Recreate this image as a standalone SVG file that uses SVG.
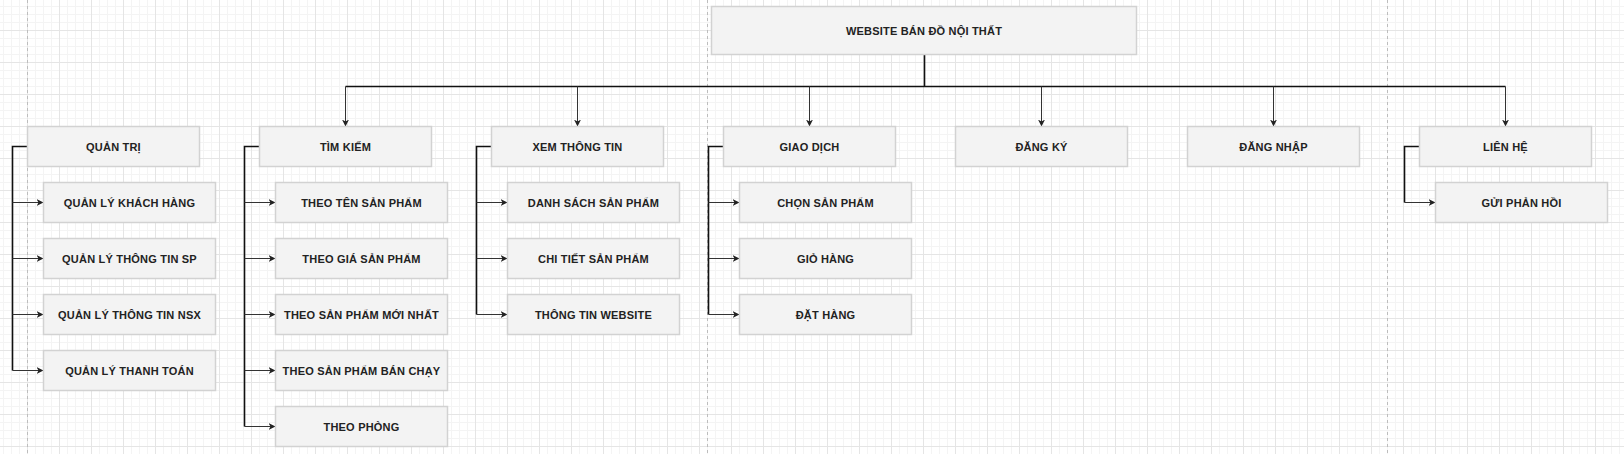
<svg xmlns="http://www.w3.org/2000/svg" width="1624" height="454" viewBox="0 0 1624 454">
<style>
.box{fill:#f3f3f3;stroke:#d2d2d2;stroke-width:1.5}
.t{font-family:"Liberation Sans",Arial,sans-serif;font-size:11px;font-weight:bold;fill:#222;text-anchor:middle;letter-spacing:0.2px}
.trunk{fill:none;stroke:#111;stroke-width:1.6}
.br{fill:none;stroke:#333;stroke-width:1;marker-end:url(#arr)}
.page{stroke:#bdbdbd;stroke-width:1;stroke-dasharray:3 3}
</style>
<defs>
<marker id="arr" markerUnits="userSpaceOnUse" markerWidth="9" markerHeight="9" refX="7" refY="4" orient="auto">
<path d="M0,0.5 L7,4 L0,7.5 L2,4 z" fill="#222"/>
</marker>
<pattern id="grid" patternUnits="userSpaceOnUse" x="27" y="30" width="32" height="32">
<path d="M8.5,0V32M16.5,0V32M24.5,0V32M0,8.5H32M0,16.5H32M0,24.5H32" stroke="#f4f4f4" stroke-width="1" fill="none"/>
<path d="M0.5,0V32M0,0.5H32" stroke="#e5e5e5" stroke-width="1" fill="none"/>
</pattern>
</defs>
<rect width="1624" height="454" fill="#fff"/>
<rect width="1624" height="454" fill="url(#grid)"/>
<g id="pages">
<line class="page" x1="27.5" y1="0" x2="27.5" y2="454"/>
<line class="page" x1="707.5" y1="0" x2="707.5" y2="454"/>
<line class="page" x1="1387.5" y1="0" x2="1387.5" y2="454"/>
</g>
<g id="connectors">
<path class="trunk" d="M924.5,54.5V86.5M345.5,86.5H1505.5"/>
<path class="br" d="M345.5,86.5V126.5"/>
<path class="br" d="M577.5,86.5V126.5"/>
<path class="br" d="M809.5,86.5V126.5"/>
<path class="br" d="M1041.5,86.5V126.5"/>
<path class="br" d="M1273.5,86.5V126.5"/>
<path class="br" d="M1505.5,86.5V126.5"/>
<path class="trunk" d="M27.5,146.5H12.5V370.5"/>
<path class="br" d="M12.5,202.5H43.5"/>
<path class="br" d="M12.5,258.5H43.5"/>
<path class="br" d="M12.5,314.5H43.5"/>
<path class="br" d="M12.5,370.5H43.5"/>
<path class="trunk" d="M259.5,146.5H244.5V426.5"/>
<path class="br" d="M244.5,202.5H275.5"/>
<path class="br" d="M244.5,258.5H275.5"/>
<path class="br" d="M244.5,314.5H275.5"/>
<path class="br" d="M244.5,370.5H275.5"/>
<path class="br" d="M244.5,426.5H275.5"/>
<path class="trunk" d="M491.5,146.5H476.5V314.5"/>
<path class="br" d="M476.5,202.5H507.5"/>
<path class="br" d="M476.5,258.5H507.5"/>
<path class="br" d="M476.5,314.5H507.5"/>
<path class="trunk" d="M723.5,146.5H708.5V314.5"/>
<path class="br" d="M708.5,202.5H739.5"/>
<path class="br" d="M708.5,258.5H739.5"/>
<path class="br" d="M708.5,314.5H739.5"/>
<path class="trunk" d="M1419.5,146.5H1404.5V202.5"/>
<path class="br" d="M1404.5,202.5H1435.5"/>
</g>
<g id="root"><rect class="box" x="711.5" y="6.5" width="425" height="48"/><text class="t" x="924" y="34.5">WEBSITE BÁN ĐỒ NỘI THẤT</text></g>
<g id="quantri"><rect class="box" x="27.5" y="126.5" width="172" height="40"/><text class="t" x="113.5" y="150.5">QUẢN TRỊ</text></g>
<g id="qlkh"><rect class="box" x="43.5" y="182.5" width="172" height="40"/><text class="t" x="129.5" y="206.5">QUẢN LÝ KHÁCH HÀNG</text></g>
<g id="qlsp"><rect class="box" x="43.5" y="238.5" width="172" height="40"/><text class="t" x="129.5" y="262.5">QUẢN LÝ THÔNG TIN SP</text></g>
<g id="qlnsx"><rect class="box" x="43.5" y="294.5" width="172" height="40"/><text class="t" x="129.5" y="318.5">QUẢN LÝ THÔNG TIN NSX</text></g>
<g id="qltt"><rect class="box" x="43.5" y="350.5" width="172" height="40"/><text class="t" x="129.5" y="374.5">QUẢN LÝ THANH TOÁN</text></g>
<g id="timkiem"><rect class="box" x="259.5" y="126.5" width="172" height="40"/><text class="t" x="345.5" y="150.5">TÌM KIẾM</text></g>
<g id="tk1"><rect class="box" x="275.5" y="182.5" width="172" height="40"/><text class="t" x="361.5" y="206.5">THEO TÊN SẢN PHẨM</text></g>
<g id="tk2"><rect class="box" x="275.5" y="238.5" width="172" height="40"/><text class="t" x="361.5" y="262.5">THEO GIÁ SẢN PHẨM</text></g>
<g id="tk3"><rect class="box" x="275.5" y="294.5" width="172" height="40"/><text class="t" x="361.5" y="318.5">THEO SẢN PHẨM MỚI NHẤT</text></g>
<g id="tk4"><rect class="box" x="275.5" y="350.5" width="172" height="40"/><text class="t" x="361.5" y="374.5">THEO SẢN PHẨM BÁN CHẠY</text></g>
<g id="tk5"><rect class="box" x="275.5" y="406.5" width="172" height="40"/><text class="t" x="361.5" y="430.5">THEO PHÒNG</text></g>
<g id="xemtt"><rect class="box" x="491.5" y="126.5" width="172" height="40"/><text class="t" x="577.5" y="150.5">XEM THÔNG TIN</text></g>
<g id="x1"><rect class="box" x="507.5" y="182.5" width="172" height="40"/><text class="t" x="593.5" y="206.5">DANH SÁCH SẢN PHẨM</text></g>
<g id="x2"><rect class="box" x="507.5" y="238.5" width="172" height="40"/><text class="t" x="593.5" y="262.5">CHI TIẾT SẢN PHẨM</text></g>
<g id="x3"><rect class="box" x="507.5" y="294.5" width="172" height="40"/><text class="t" x="593.5" y="318.5">THÔNG TIN WEBSITE</text></g>
<g id="giaodich"><rect class="box" x="723.5" y="126.5" width="172" height="40"/><text class="t" x="809.5" y="150.5">GIAO DỊCH</text></g>
<g id="g1"><rect class="box" x="739.5" y="182.5" width="172" height="40"/><text class="t" x="825.5" y="206.5">CHỌN SẢN PHẨM</text></g>
<g id="g2"><rect class="box" x="739.5" y="238.5" width="172" height="40"/><text class="t" x="825.5" y="262.5">GIỎ HÀNG</text></g>
<g id="g3"><rect class="box" x="739.5" y="294.5" width="172" height="40"/><text class="t" x="825.5" y="318.5">ĐẶT HÀNG</text></g>
<g id="dangky"><rect class="box" x="955.5" y="126.5" width="172" height="40"/><text class="t" x="1041.5" y="150.5">ĐĂNG KÝ</text></g>
<g id="dangnhap"><rect class="box" x="1187.5" y="126.5" width="172" height="40"/><text class="t" x="1273.5" y="150.5">ĐĂNG NHẬP</text></g>
<g id="lienhe"><rect class="box" x="1419.5" y="126.5" width="172" height="40"/><text class="t" x="1505.5" y="150.5">LIÊN HỆ</text></g>
<g id="guiph"><rect class="box" x="1435.5" y="182.5" width="172" height="40"/><text class="t" x="1521.5" y="206.5">GỬI PHẢN HỒI</text></g>
</svg>
